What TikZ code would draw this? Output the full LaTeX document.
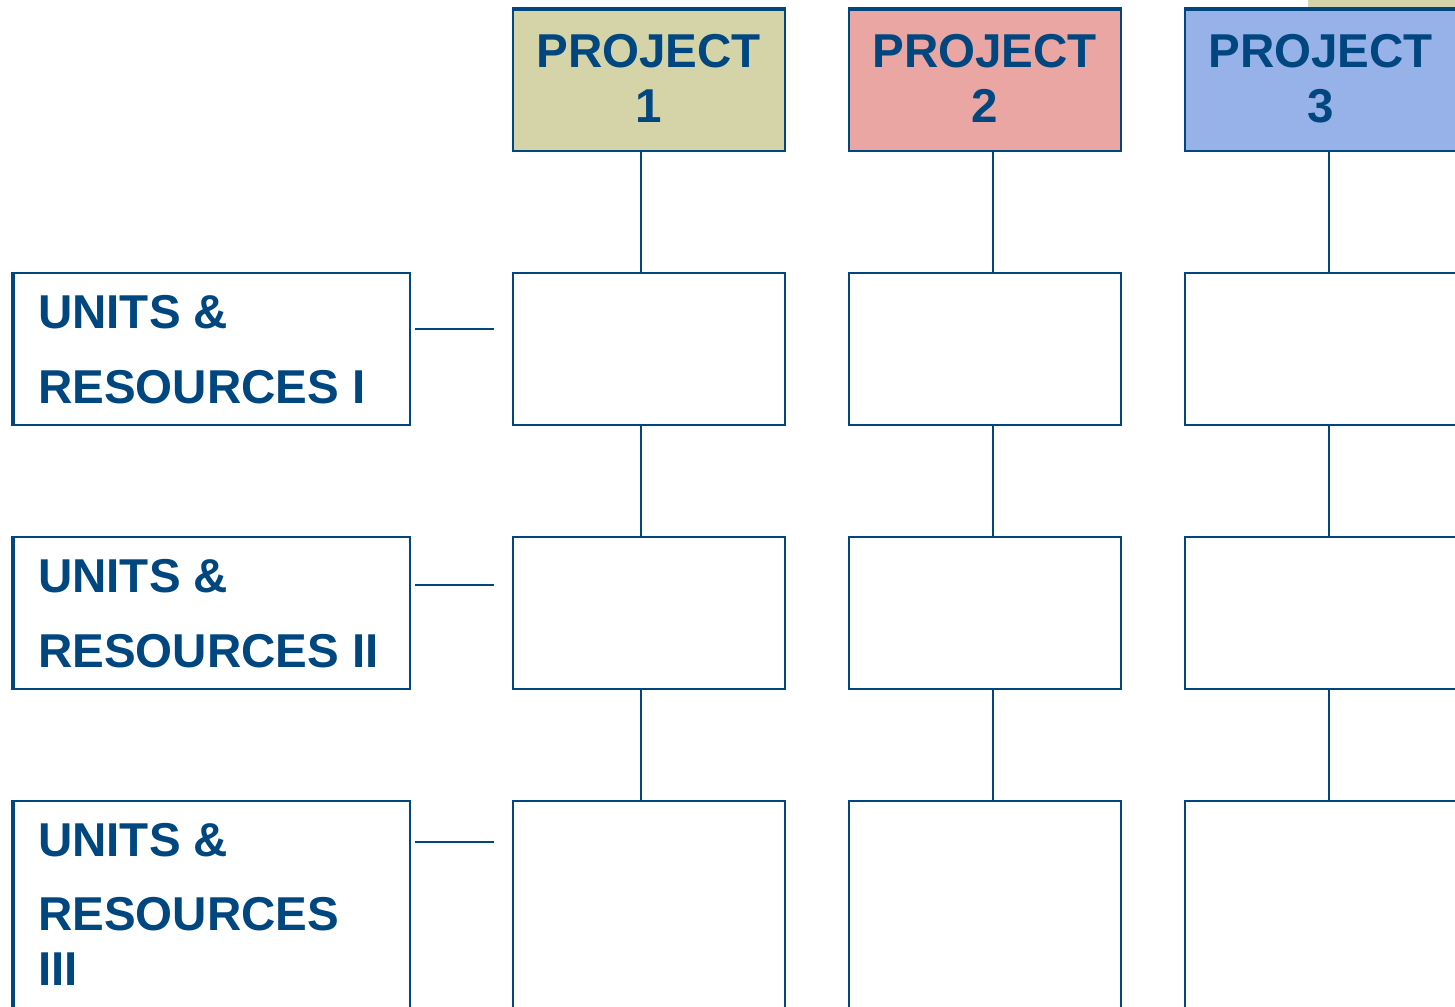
\documentclass[tikz,border=0pt]{standalone}
\usepackage{fontspec}
\setmainfont{Liberation Sans}
\definecolor{ink}{RGB}{0,70,127}
\definecolor{beige}{RGB}{212,212,168}
\definecolor{pinkish}{RGB}{233,166,163}
\definecolor{bluish}{RGB}{151,178,232}
\tikzset{
  box/.style={draw=ink, line width=2pt, rectangle, inner sep=0pt, minimum width=272pt, anchor=north west},
  projbox/.style={box, minimum height=141pt},
  cellbox/.style={box, minimum height=152pt},
  unitbox/.style={draw=ink, line width=2pt, rectangle, inner sep=0pt, minimum width=396pt, minimum height=152pt, anchor=north west},
  txt/.style={text=ink, font=\fontsize{47.5}{54}\selectfont\bfseries, inner sep=0pt},
  conn/.style={draw=ink, line width=2pt}
}
\begin{document}
\begin{tikzpicture}[x=1pt,y=-1pt]
\useasboundingbox (0,0) rectangle (1455,1006);
\clip (0,0) rectangle (1455,1006);
% top-right beige strip
\fill[beige] (1308,0) rectangle (1460,9);
% project boxes
\node[projbox, fill=beige] (p1) at (512,9) {};
\node[projbox, fill=pinkish] (p2) at (848,9) {};
\node[projbox, fill=bluish] (p3) at (1184,9) {};
\foreach \p in {p1,p2,p3}{
  \draw[ink, line width=4pt] (\p.north west) -- (\p.north east);
}
\node[txt, anchor=base] (t1a) at (648.5,68) {PROJECT};
\node[txt, anchor=base] (t1b) at (648.5,122) {1};
\node[txt, anchor=base] (t2a) at (984.5,68) {PROJECT};
\node[txt, anchor=base] (t2b) at (984.5,122) {2};
\node[txt, anchor=base] (t3a) at (1320.5,68) {PROJECT};
\node[txt, anchor=base] (t3b) at (1320.5,122) {3};
% cells
\foreach \r/\y/\h in {1/272/152,2/536/152,3/800/260}{
  \node[box, minimum height=\h pt] (c1\r) at (512,\y) {};
  \node[box, minimum height=\h pt] (c2\r) at (848,\y) {};
  \node[box, minimum height=\h pt] (c3\r) at (1184,\y) {};
  \node[unitbox, minimum height=\h pt] (u\r) at (13,\y) {};
  \draw[ink, line width=3.5pt] (u\r.north west) -- (u\r.south west);
}
% unit labels
\node[txt, anchor=base west] (u1a) at (38,328) {UNITS \&};
\node[txt, anchor=base west] (u1b) at (38,403) {RESOURCES I};
\node[txt, anchor=base west] (u2a) at (38,592) {UNITS \&};
\node[txt, anchor=base west] (u2b) at (38,667) {RESOURCES II};
\node[txt, anchor=base west] (u3a) at (38,856) {UNITS \&};
\node[txt, anchor=base west] (u3b) at (38,930) {RESOURCES};
\node[txt, anchor=base west] (u3c) at (38,985) {III};
% vertical connectors
\draw[conn] ([xshift=-8pt]p1.south) -- ([xshift=-8pt]c11.north);
\draw[conn] ([xshift=-8pt]c11.south) -- ([xshift=-8pt]c12.north);
\draw[conn] ([xshift=-8pt]c12.south) -- ([xshift=-8pt]c13.north);
\draw[conn] ([xshift=8pt]p2.south) -- ([xshift=8pt]c21.north);
\draw[conn] ([xshift=8pt]c21.south) -- ([xshift=8pt]c22.north);
\draw[conn] ([xshift=8pt]c22.south) -- ([xshift=8pt]c23.north);
\draw[conn] ([xshift=8pt]p3.south) -- ([xshift=8pt]c31.north);
\draw[conn] ([xshift=8pt]c31.south) -- ([xshift=8pt]c32.north);
\draw[conn] ([xshift=8pt]c32.south) -- ([xshift=8pt]c33.north);
% horizontal stubs
\coordinate (h1a) at (415,329); \coordinate (h1b) at (494,329);
\coordinate (h2a) at (415,585); \coordinate (h2b) at (494,585);
\coordinate (h3a) at (415,842); \coordinate (h3b) at (494,842);
\draw[conn] (h1a) -- (h1b);
\draw[conn] (h2a) -- (h2b);
\draw[conn] (h3a) -- (h3b);
\end{tikzpicture}
\end{document}
